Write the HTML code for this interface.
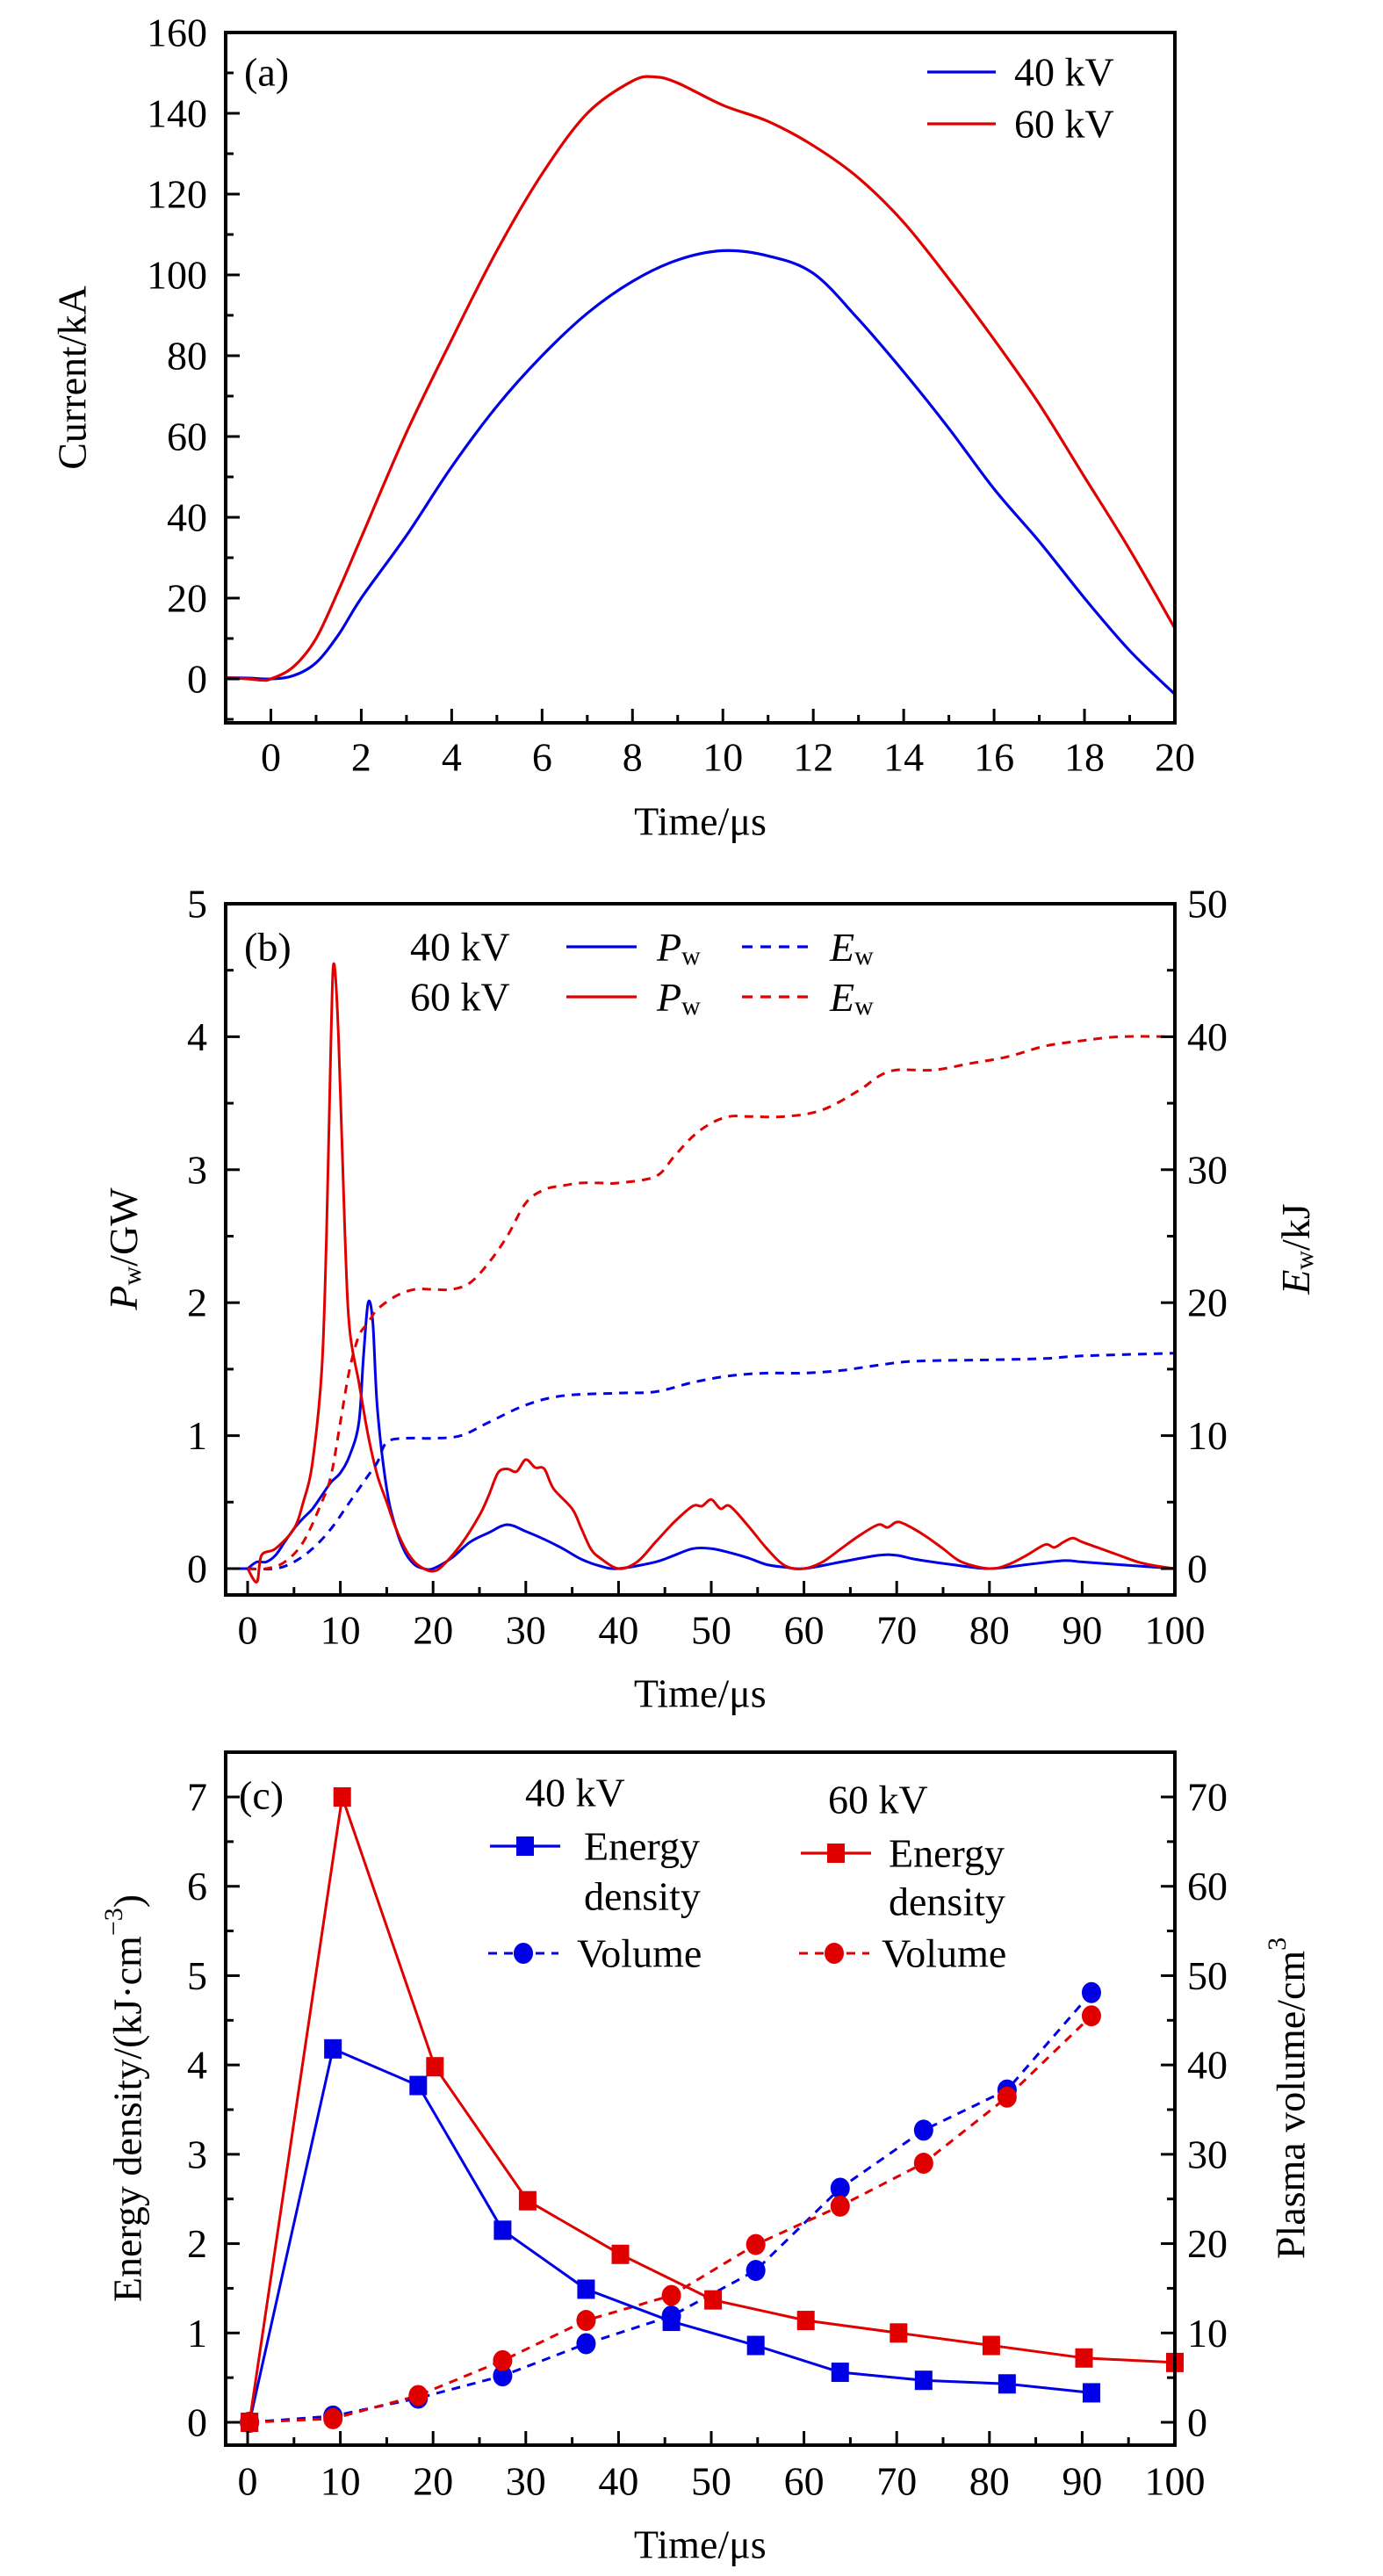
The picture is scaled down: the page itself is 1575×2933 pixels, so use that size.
<!DOCTYPE html>
<html><head><meta charset="utf-8">
<style>
html,body{margin:0;padding:0;background:#fff;}
svg{display:block;font-family:"Liberation Serif",serif;}
text{fill:#000;}
</style></head>
<body>
<svg id="fig" width="1575" height="2933" viewBox="0 0 1575 2933" xmlns="http://www.w3.org/2000/svg">
<g id="pa"></g>
<g id="pb"></g>
<g id="pc"></g>
</svg>
<script>
// ---------- Panel (a) data ----------
const aBlueT = [-1,-0.5,0,0.5,1,1.5,2,3,4,5,6,7,8,9,10,11,12,13,14,15,16,17,18,19,20];
const aBlueI = [0.3,0.2,0,0.8,4,11,20,35.5,52.5,67.5,80,90.5,98.4,103.7,106,104.7,100.4,89,76,62,47,34,20,7,-3.8];
const aRedT = [-1,-0.5,-0.2,0,0.5,1,1.5,2,3,4,5,6,7,8,8.5,9,10,11,12,13,14,15,16,17,18,19,20];
const aRedI = [0.3,0,-0.3,0,3,10,22,35,61,84,106,125,140,148,149,147.5,142,138,132,124,113,99,84,68,50,32,12.5];
const aXTicks = [0,2,4,6,8,10,12,14,16,18,20];
const aYTicks = [0,20,40,60,80,100,120,140,160];

// ---------- Panel (b) data ----------
const bRedPT = [0,1,1.5,3,5,6,7,8,8.5,9,9.3,9.8,10.5,11,12,13,14,15,16,17,18,19,20,21,23,25,26,27,28,29,30,31,32,33,35,36,37,38,40,42,44,46,48,49,50,51,52,54,56,58,60,62,64,66,68,69,70,71,73,75,77,80,82,84,86,87,88,89,90,92,94,96,98,100];
const bRedP = [0,-0.1,0.1,0.15,0.3,0.5,0.8,1.5,2.5,4.0,4.55,4.0,2.5,1.8,1.4,1.0,0.7,0.5,0.3,0.15,0.05,0,-0.02,0.02,0.18,0.4,0.55,0.72,0.75,0.73,0.82,0.76,0.75,0.6,0.45,0.3,0.15,0.08,0,0.05,0.2,0.35,0.47,0.47,0.52,0.45,0.47,0.32,0.15,0.02,0,0.05,0.15,0.25,0.33,0.31,0.35,0.33,0.25,0.15,0.05,0,0.03,0.1,0.18,0.16,0.2,0.23,0.2,0.15,0.1,0.05,0.02,0];
const bBluePT = [0,1,2,3,4,5,6,7,8,9,10,11,12,12.5,13,13.5,14,15,16,17,18,19,20,22,24,26,28,30,32,34,36,38,40,44,46,48,50,52,54,56,58,60,64,68,70,72,76,80,84,88,90,94,100];
const bBlueP = [0,0.05,0.05,0.1,0.2,0.3,0.38,0.45,0.55,0.65,0.72,0.85,1.1,1.6,2.0,1.85,1.2,0.6,0.3,0.12,0.03,0,0,0.08,0.2,0.27,0.33,0.28,0.22,0.15,0.07,0.02,0,0.05,0.1,0.15,0.15,0.12,0.08,0.03,0.01,0,0.05,0.1,0.1,0.07,0.03,0,0.03,0.06,0.05,0.03,0];
const bRedET = [0,2,4,6,8,9,10,11,12,13,14,16,18,20,22,24,26,28,30,32,34,36,38,40,44,46,48,50,52,54,58,62,66,68,70,74,78,82,86,90,94,100];
const bRedE = [0,0,0.5,2,5,7,11,15,17.5,18.5,19.5,20.5,21,21,21,21.5,23,25,27.5,28.5,28.8,29,29,29,29.5,31,32.5,33.5,34,34,34,34.5,36,37,37.5,37.5,38,38.5,39.3,39.7,40,40];
const bBlueET = [0,3,5,7,9,11,13,14,15,17,20,23,26,30,34,40,44,48,52,56,60,64,68,72,80,86,90,100];
const bBlueE = [0,0,0.5,1.5,3,5,7,8,9.5,9.8,9.8,10,11,12.3,13,13.2,13.3,14,14.5,14.7,14.7,14.9,15.3,15.6,15.7,15.8,16,16.2];
const bXTicks = [0,10,20,30,40,50,60,70,80,90,100];
const bYTicks = [0,1,2,3,4,5];
const bY2Ticks = [0,10,20,30,40,50];

// ---------- Panel (c) data ----------
const cBlueT = [0.2,9.2,18.4,27.5,36.5,45.7,54.8,63.9,72.9,81.9,91];
const cBlueED = [0,4.18,3.77,2.15,1.49,1.13,0.86,0.56,0.47,0.43,0.33];
const cBlueVol = [0,0.7,2.7,5.2,8.8,11.9,17,26.2,32.7,37.2,48.1];
const cRedEDT = [0.2,10.2,20.2,30.2,40.2,50.2,60.2,70.2,80.2,90.2,100];
const cRedED = [0,7.0,3.98,2.48,1.88,1.37,1.14,1.0,0.86,0.72,0.67];
const cRedVolT = [0.2,9.2,18.4,27.5,36.5,45.7,54.8,63.9,72.9,81.9,91];
const cRedVol = [0,0.4,3.0,6.9,11.4,14.2,19.9,24.2,29,36.4,45.5];
const cXTicks = [0,10,20,30,40,50,60,70,80,90,100];
const cYTicks = [0,1,2,3,4,5,6,7];
const cY2Ticks = [0,10,20,30,40,50,60,70];

const NS = "http://www.w3.org/2000/svg";
const BLUE = "#0000e6", RED = "#e00000";
const FS = 46;
function el(tag, attrs, parent){
  const e = document.createElementNS(NS, tag);
  for (const k in attrs) e.setAttribute(k, attrs[k]);
  parent.appendChild(e);
  return e;
}
function lin(d0,d1,p0,p1){ return v => p0 + (v-d0)*(p1-p0)/(d1-d0); }
function smoothPath(xs, ys, sx, sy){
  const P = xs.map((x,i)=>[sx(x), sy(ys[i])]);
  let d = "M"+P[0][0].toFixed(1)+","+P[0][1].toFixed(1);
  for (let i=0;i<P.length-1;i++){
    const p0=P[Math.max(0,i-1)], p1=P[i], p2=P[i+1], p3=P[Math.min(P.length-1,i+2)];
    const c1=[p1[0]+(p2[0]-p0[0])/6, p1[1]+(p2[1]-p0[1])/6];
    const c2=[p2[0]-(p3[0]-p1[0])/6, p2[1]-(p3[1]-p1[1])/6];
    d += " C"+c1[0].toFixed(1)+","+c1[1].toFixed(1)+" "+c2[0].toFixed(1)+","+c2[1].toFixed(1)+" "+p2[0].toFixed(1)+","+p2[1].toFixed(1);
  }
  return d;
}
function polyPath(xs, ys, sx, sy){
  return xs.map((x,i)=>(i?"L":"M")+sx(x).toFixed(1)+","+sy(ys[i]).toFixed(1)).join(" ");
}
function txt(parent, x, y, s, anchor, size){
  const t = el("text", {x:x, y:y, "text-anchor":anchor||"middle", "font-size":size||FS, "dominant-baseline":"central"}, parent);
  t.textContent = s;
  return t;
}
function frame(g, L, R, T, B){
  const r = el("rect", {x:L, y:T, width:R-L, height:B-T, fill:"none", stroke:"#000", "stroke-width":4}, g);
  
  
}
function xAxis(g, sx, B, ticks, minorStep, xmin, xmax, labelY, titleY){
  for (let v = Math.ceil(xmin/minorStep)*minorStep; v <= xmax+1e-9; v += minorStep){
    const major = ticks.some(t=>Math.abs(t-v)<1e-9);
    const tk = el("line", {x1:sx(v), x2:sx(v), y1:B, y2:B-(major?16:9), stroke:"#000", "stroke-width":3}, g);
    
    
  }
  ticks.forEach(v=>{
    const t = txt(g, sx(v), labelY, String(v));
    
    
  });
  const tt = txt(g, (sx(xmin)+sx(xmax))/2, titleY, "Time/μs");
  
  
}
function yAxis(g, sy, x, dir, ticks, labels, minorStep, ymin, ymax, labelX, anchor){
  for (let v = Math.ceil(ymin/minorStep)*minorStep; v <= ymax+1e-9; v += minorStep){
    const major = ticks.some(t=>Math.abs(t-v)<1e-9);
    const tk = el("line", {x1:x, x2:x+dir*(major?16:9), y1:sy(v), y2:sy(v), stroke:"#000", "stroke-width":3}, g);
    
    
  }
  if (labels) ticks.forEach((v,i)=>{
    const t = txt(g, labelX, sy(v), String(labels[i]), anchor);
    
    
  });
}

// ================= Panel (a) =================
(function(){
  const g = document.getElementById("pa");
  const L=257, R=1338, T=37, B=823;
  const sx = lin(-1,20,L,R), sy = lin(0,160,773,37);
  const clip = el("clipPath",{id:"clipA"},g); el("rect",{x:L,y:T,width:R-L,height:B-T},clip);
  const pb = el("path",{d:smoothPath(aBlueT,aBlueI,sx,sy),fill:"none",stroke:BLUE,"stroke-width":3.2,"clip-path":"url(#clipA)"},g);
  
  
  const pr = el("path",{d:smoothPath(aRedT,aRedI,sx,sy),fill:"none",stroke:RED,"stroke-width":3.2,"clip-path":"url(#clipA)"},g);
  
  
  frame(g,L,R,T,B);
  xAxis(g, sx, B, aXTicks, 1, -1, 20, 862, 935);
  yAxis(g, sy, L, 1, aYTicks, aYTicks, 10, -10, 160, 236, "end");
  const yt = txt(g, 0, 0, "Current/kA");
  yt.setAttribute("transform","translate(82,430) rotate(-90)");
  
  
  const lab = txt(g, 278, 82, "(a)", "start");
  
  
  [[BLUE,"40 kV",82],[RED,"60 kV",141]].forEach(([c,s,y])=>{
    const l = el("line",{x1:1056,x2:1134,y1:y,y2:y,stroke:c,"stroke-width":3.2},g);
    
    
    const t = txt(g, 1155, y, s, "start");
    
    
  });
})();

// ================= Panel (b) =================
(function(){
  const g = document.getElementById("pb");
  const L=257, R=1338, T=1029, B=1816;
  const sx = lin(0,100,282,1338), sy = lin(0,5,1786,1029), sy2 = lin(0,50,1786,1029);
  const clip = el("clipPath",{id:"clipB"},g); el("rect",{x:L,y:T,width:R-L,height:B-T},clip);
  const series = [
    [bBluePT,bBlueP,sy,BLUE,null,'power-40kv'],
    [bRedPT,bRedP,sy,RED,null,'power-60kv'],
    [bBlueET,bBlueE,sy2,BLUE,"10 8",'energy-40kv'],
    [bRedET,bRedE,sy2,RED,"10 8",'energy-60kv']
  ];
  series.forEach(([xs,ys,s,c,dash,name])=>{
    const a = {d:smoothPath(xs,ys,sx,s),fill:"none",stroke:c,"stroke-width":3,"clip-path":"url(#clipB)"};
    if (dash) a["stroke-dasharray"]=dash;
    const p = el("path",a,g);
    
    
  });
  const flat = el("line",{x1:L,x2:sx(0),y1:sy(0),y2:sy(0),stroke:BLUE,"stroke-width":3},g);
  
  
  frame(g,L,R,T,B);
  xAxis(g, sx, B, bXTicks, 5, -2.4, 100, 1856, 1928);
  yAxis(g, sy, L, 1, bYTicks, bYTicks, 0.5, -0.2, 5, 236, "end");
  yAxis(g, sy2, R, -1, bY2Ticks, bY2Ticks, 5, -2, 50, 1352, "start");
  const yt = el("text",{transform:"translate(140,1422) rotate(-90)","text-anchor":"middle","font-size":FS,"dominant-baseline":"central"},g);
  yt.innerHTML = '<tspan font-style="italic">P</tspan><tspan font-size="30" dy="10">w</tspan><tspan dy="-10">/GW</tspan>';
  
  
  const yt2 = el("text",{transform:"translate(1475,1422) rotate(-90)","text-anchor":"middle","font-size":FS,"dominant-baseline":"central"},g);
  yt2.innerHTML = '<tspan font-style="italic">E</tspan><tspan font-size="30" dy="10">w</tspan><tspan dy="-10">/kJ</tspan>';
  
  
  const lab = txt(g, 278, 1078, "(b)", "start");
  
  
  [[BLUE,"40 kV",1078],[RED,"60 kV",1135]].forEach(([c,s,y])=>{
    const t = txt(g, 467, y, s, "start");
    
    
    const l = el("line",{x1:645,x2:725,y1:y,y2:y,stroke:c,"stroke-width":3.2},g);
    
    
    const p = el("text",{x:748,y:y,"font-size":FS,"dominant-baseline":"central"},g);
    p.innerHTML = '<tspan font-style="italic">P</tspan><tspan font-size="30" dy="10">w</tspan>';
    
    
    const d = el("line",{x1:845,x2:925,y1:y,y2:y,stroke:c,"stroke-width":3.2,"stroke-dasharray":"12 9"},g);
    
    
    const e = el("text",{x:945,y:y,"font-size":FS,"dominant-baseline":"central"},g);
    e.innerHTML = '<tspan font-style="italic">E</tspan><tspan font-size="30" dy="10">w</tspan>';
    
    
  });
})();

// ================= Panel (c) =================
(function(){
  const g = document.getElementById("pc");
  const L=257, R=1338, T=1995, B=2784;
  const sx = lin(0,100,282,1338), sy = lin(0,7,2758,2046), sy2 = lin(0,70,2758,2046);
  const clip = el("clipPath",{id:"clipC"},g); el("rect",{x:L-12,y:T,width:R-L+24,height:B-T},clip);
  function sq(x,y,c,name){
    const r = el("rect",{x:x-10,y:y-11,width:20,height:22,fill:c,"clip-path":"url(#clipC)"},g);
    
    
  }
  function ci(x,y,c,name){
    const r = el("ellipse",{cx:x,cy:y,rx:11,ry:12,fill:c},g);
    
    
  }
  const dv = el("path",{d:polyPath(cBlueT,cBlueVol,sx,sy2),fill:"none",stroke:BLUE,"stroke-width":3,"stroke-dasharray":"10 8"},g);
  
  
  const rv = el("path",{d:polyPath(cRedVolT,cRedVol,sx,sy2),fill:"none",stroke:RED,"stroke-width":3,"stroke-dasharray":"10 8"},g);
  
  
  const be = el("path",{d:polyPath(cBlueT,cBlueED,sx,sy),fill:"none",stroke:BLUE,"stroke-width":3},g);
  
  
  const re = el("path",{d:polyPath(cRedEDT,cRedED,sx,sy),fill:"none",stroke:RED,"stroke-width":3},g);
  
  
  cBlueT.forEach((t,i)=>ci(sx(t),sy2(cBlueVol[i]),BLUE,'volume-40kv-point'));
  cRedVolT.forEach((t,i)=>ci(sx(t),sy2(cRedVol[i]),RED,'volume-60kv-point'));
  cBlueT.forEach((t,i)=>sq(sx(t),sy(cBlueED[i]),BLUE,'energy-density-40kv-point'));
  cRedEDT.forEach((t,i)=>sq(sx(t),sy(cRedED[i]),RED,'energy-density-60kv-point'));
  frame(g,L,R,T,B);
  xAxis(g, sx, B, cXTicks, 5, -2.4, 100, 2825, 2897);
  yAxis(g, sy, L, 1, cYTicks, cYTicks, 0.5, -0.25, 7.5, 236, "end");
  yAxis(g, sy2, R, -1, cY2Ticks, cY2Ticks, 5, -2.5, 75, 1352, "start");
  const yt = el("text",{transform:"translate(145,2389) rotate(-90)","text-anchor":"middle","font-size":FS,"dominant-baseline":"central"},g);
  yt.innerHTML = 'Energy density/(kJ·cm<tspan font-size="30" dy="-16">−3</tspan><tspan dy="16">)</tspan>';
  
  
  const yt2 = el("text",{transform:"translate(1470,2389) rotate(-90)","text-anchor":"middle","font-size":FS,"dominant-baseline":"central"},g);
  yt2.innerHTML = 'Plasma volume/cm<tspan font-size="30" dy="-16">3</tspan>';
  
  
  const lab = txt(g, 272, 2044, "(c)", "start");
  
  
  [[BLUE,"40 kV",598,2041,558,665,2102,2159],[RED,"60 kV",943,2049,912,1012,2110,2165]].forEach(([c,s,hx,hy,lx,tx,y1,y2])=>{
    const h = txt(g, hx, hy, s, "start");
    
    
    const l = el("line",{x1:lx,x2:lx+80,y1:y1,y2:y1,stroke:c,"stroke-width":3.2},g);
    
    
    sq(lx+40,y1,c,'legend-energy-marker');
    const t1 = txt(g, tx, y1, "Energy", "start");
    
    
    const t2 = txt(g, tx, y2, "density", "start");
    
    
    const d = el("line",{x1:lx-2,x2:lx+78,y1:2224,y2:2224,stroke:c,"stroke-width":3,"stroke-dasharray":"10 8"},g);
    
    
    ci(lx+38,2224,c,'legend-volume-marker');
    const t3 = txt(g, tx-8, 2224, "Volume", "start");
    
    
  });
})();
</script>
</body></html>
